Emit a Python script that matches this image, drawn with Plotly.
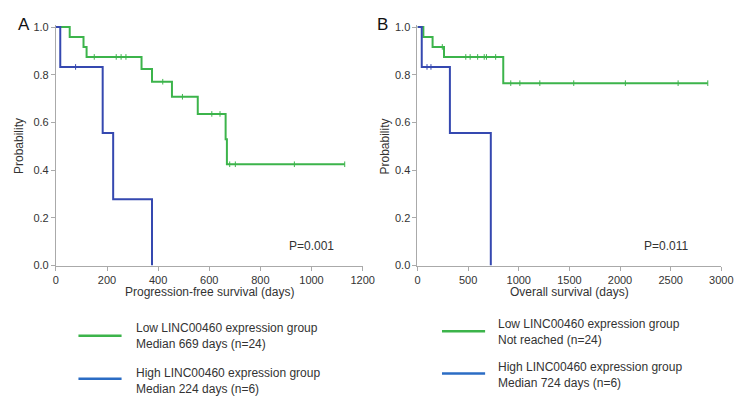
import numpy as np
import plotly.graph_objects as go

# ---------------- data ----------------
# Panel A: progression-free survival
a_low_t = [0, 54, 108, 120, 335, 376, 454, 555, 664, 669, 1130]
a_low_s = [1.0, 0.958, 0.917, 0.875, 0.824, 0.771, 0.708, 0.636, 0.530, 0.425, 0.425]
a_low_cens = [150, 236, 255, 274, 418, 495, 610, 642, 680, 702, 933, 1130]

a_high_t = [0, 17, 183, 224, 376]
a_high_s = [1.0, 0.833, 0.556, 0.278, 0.0]
a_high_cens = [77]

# Panel B: overall survival
b_low_t = [0, 58, 149, 262, 847, 2867]
b_low_s = [1.0, 0.958, 0.917, 0.875, 0.765, 0.765]
b_low_cens = [245, 477, 520, 594, 659, 681, 772, 921, 1011, 1208, 1543, 2053, 2574, 2867]

b_high_t = [0, 42, 320, 724]
b_high_s = [1.0, 0.833, 0.556, 0.0]
b_high_cens = [94, 133]

x_ticks_a = [0, 200, 400, 600, 800, 1000, 1200]
x_ticks_b = [0, 500, 1000, 1500, 2000, 2500, 3000]
y_ticks = [0.0, 0.2, 0.4, 0.6, 0.8, 1.0]

legend_a = ["Low LINC00460 expression group<br>Median 669 days (n=24)",
            "High LINC00460 expression group<br>Median 224 days (n=6)"]
legend_b = ["Low LINC00460 expression group<br>Not reached (n=24)",
            "High LINC00460 expression group<br>Median 724 days (n=6)"]

GREEN = "#3cb44b"
BLUE = "#3548b0"
LEG_GREEN = "#3cb44b"
LEG_BLUE = "#2b6cc4"
FONT = "Liberation Sans, Arial, sans-serif"
TXT = "#333333"
AX = "#aaaaaa"

W, H = 746, 401


def step_y(ts, ss, c):
    i = np.searchsorted(np.array(ts), c, side="right") - 1
    return ss[i]


fig = go.Figure()


def add_curve(ts, ss, cens, color, xa, ya):
    fig.add_trace(go.Scatter(x=ts, y=ss, mode="lines", line=dict(color=color, width=2, shape="hv"),
                             xaxis=xa, yaxis=ya, showlegend=False, hoverinfo="skip"))
    fig.add_trace(go.Scatter(x=cens, y=[step_y(ts, ss, c) for c in cens], mode="markers",
                             marker=dict(symbol="line-ns", size=4, line=dict(color=color, width=1)),
                             xaxis=xa, yaxis=ya, showlegend=False, hoverinfo="skip"))


add_curve(a_low_t, a_low_s, a_low_cens, GREEN, "x", "y")
add_curve(a_high_t, a_high_s, a_high_cens, BLUE, "x", "y")
add_curve(b_low_t, b_low_s, b_low_cens, GREEN, "x2", "y2")
add_curve(b_high_t, b_high_s, b_high_cens, BLUE, "x2", "y2")

# domains (pixel -> paper)
y0_px, y1_px = 268.3, 23.7
ytop = 1.01
ppu = (y0_px - y1_px)
ytop_px = y0_px - ppu * ytop
ydom = [(H - y0_px) / H, (H - ytop_px) / H]

axis_common = dict(showgrid=False, zeroline=False, showline=True, linecolor=AX, linewidth=1,
                   ticks="outside", ticklen=4, tickcolor=AX,
                   tickfont=dict(family=FONT, size=11, color=TXT))

fig.update_layout(
    width=W, height=H, margin=dict(l=0, r=0, t=0, b=0),
    paper_bgcolor="white", plot_bgcolor="white", showlegend=False,
    xaxis=dict(domain=[54 / W, 367 / W], range=[0, 1200], tickvals=x_ticks_a,
               anchor="y", **axis_common),
    yaxis=dict(domain=ydom, range=[0, ytop], tickvals=y_ticks, tickformat=".1f",
               anchor="x", **axis_common),
    xaxis2=dict(domain=[423 / W, 733 / W], range=[0, 3000], tickvals=x_ticks_b,
                anchor="y2", **axis_common),
    yaxis2=dict(domain=ydom, range=[0, ytop], tickvals=y_ticks, tickformat=".1f",
                anchor="x2", **axis_common),
)

annots = []


def txt(x, y, s, size=12, xanchor="center", yanchor="middle", angle=0):
    annots.append(dict(x=x / W, y=1 - y / H, xref="paper", yref="paper", text=s, showarrow=False,
                       xanchor=xanchor, yanchor=yanchor, textangle=angle,
                       font=dict(family=FONT, size=size, color=TXT if size < 15 else "#111111"),
                       align="left"))


txt(21, 21, "A", size=17)
txt(387, 21, "B", size=17)
txt(17, 146, "Probability", size=12, angle=-90)
txt(390, 146, "Probability", size=12, angle=-90)
txt(211, 295, "Progression-free survival (days)", size=12)
txt(578, 295, "Overall survival (days)", size=12)
txt(315, 248, "P=0.001", size=12)
txt(677, 248, "P=0.011", size=12)

# legends
shapes = []
legs = [
    (77, 121, 340.3, 134, 340, legend_a[0], LEG_GREEN),
    (77, 121, 384.3, 134, 386.5, legend_a[1], LEG_BLUE),
    (448, 492, 335.7, 503, 336, legend_b[0], LEG_GREEN),
    (448, 492, 379, 503, 381, legend_b[1], LEG_BLUE),
]
for x0, x1, ly, tx, ty, s, c in legs:
    shapes.append(dict(type="line", xref="paper", yref="paper", x0=x0 / W, x1=x1 / W,
                       y0=1 - ly / H, y1=1 - ly / H, line=dict(color=c, width=2.5)))
    txt(tx, ty, s, size=12, xanchor="left")

fig.update_layout(annotations=annots, shapes=shapes)

fig.write_html("out.html")
